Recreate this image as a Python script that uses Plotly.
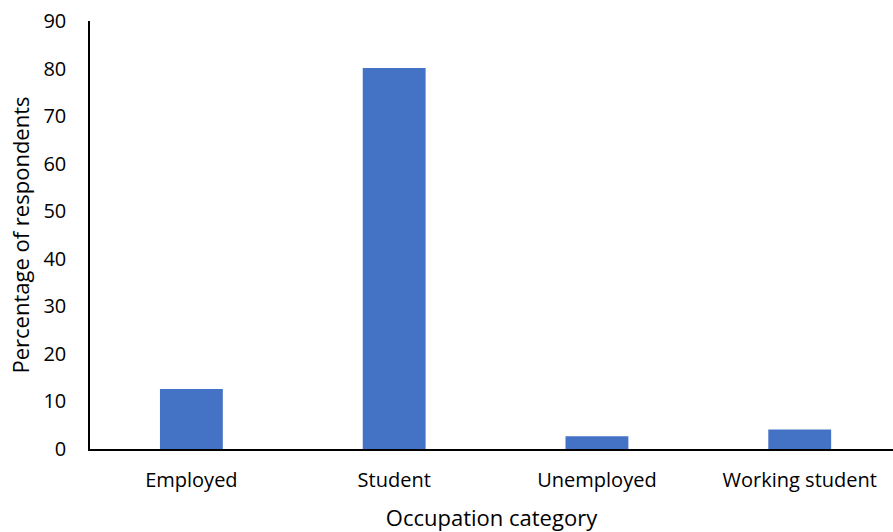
import plotly.graph_objects as go

categories = ["Employed", "Student", "Unemployed", "Working student"]
values = [12.6, 80.1, 2.7, 4.1]
y_ticks = [0, 10, 20, 30, 40, 50, 60, 70, 80, 90]

fig = go.Figure()
fig.add_trace(go.Bar(x=categories, y=values, marker=dict(color="#4472C4", line=dict(width=0)), width=0.31))

font_family = "Open Sans, Lato, sans-serif"
fig.update_layout(
    width=893, height=532,
    margin=dict(l=90, r=0, t=21, b=83),
    paper_bgcolor="white", plot_bgcolor="white",
    showlegend=False,
    font=dict(family=font_family, color="#000000", size=20),
    xaxis=dict(
        type="category", range=[-0.5, 3.46],
        showline=True, linecolor="#000000", linewidth=1.5,
        showgrid=False, ticks="outside", ticklen=12, tickcolor="rgba(0,0,0,0)",
        tickfont=dict(size=20),
        title=dict(text="Occupation category", font=dict(size=22), standoff=19),
    ),
    yaxis=dict(
        range=[0, 90], tickvals=y_ticks,
        showline=True, linecolor="#000000", linewidth=1.5,
        showgrid=False, zeroline=False, ticks="outside", ticklen=18, tickcolor="rgba(0,0,0,0)",
        tickfont=dict(size=20),
        title=dict(text="Percentage of respondents", font=dict(size=22), standoff=8),
    ),
)
fig.write_html("out.html")
